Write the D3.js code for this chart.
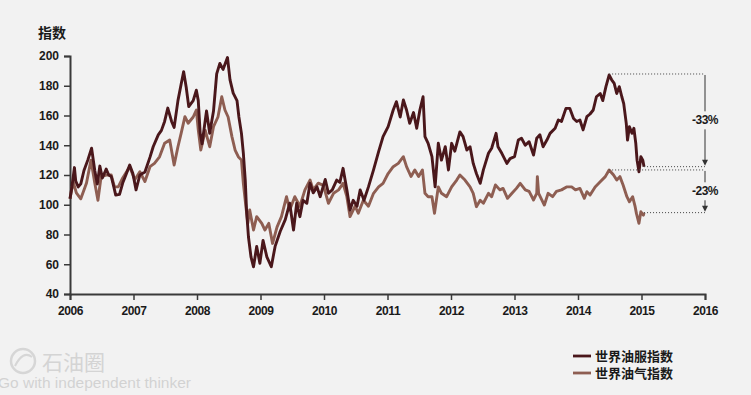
<!DOCTYPE html>
<html lang="zh">
<head>
<meta charset="UTF-8">
<title>世界油服指数与世界油气指数</title>
<script src="https://d3js.org/d3.v7.min.js"></script>
<style>
  body { margin: 0; background: #f2f2f2; }
  svg { display: block; }
  .tick text { font-family: "Liberation Sans", Arial, sans-serif; font-weight: bold; fill: #1a1a1a; }
</style>
</head>
<body>
<div id="chart"></div>
<script>
// 年份（小数年）与指数值
const serviceYears = [2006.00,2006.03,2006.07,2006.09,2006.13,2006.17,2006.22,2006.28,2006.34,2006.39,2006.43,2006.47,2006.51,2006.57,2006.61,2006.65,2006.69,2006.72,2006.78,2006.83,2006.88,2006.94,2006.99,2007.04,2007.10,2007.18,2007.26,2007.31,2007.39,2007.44,2007.49,2007.54,2007.60,2007.64,2007.70,2007.75,2007.79,2007.83,2007.87,2007.94,2007.99,2008.02,2008.05,2008.08,2008.15,2008.20,2008.26,2008.31,2008.36,2008.41,2008.48,2008.52,2008.57,2008.63,2008.66,2008.70,2008.73,2008.76,2008.78,2008.81,2008.85,2008.89,2008.94,2008.99,2009.04,2009.10,2009.17,2009.23,2009.31,2009.39,2009.46,2009.52,2009.57,2009.62,2009.67,2009.73,2009.78,2009.83,2009.89,2009.94,2010.02,2010.07,2010.13,2010.20,2010.25,2010.30,2010.36,2010.41,2010.46,2010.52,2010.57,2010.63,2010.70,2010.78,2010.86,2010.93,2011.01,2011.09,2011.14,2011.20,2011.25,2011.30,2011.35,2011.41,2011.46,2011.51,2011.56,2011.59,2011.64,2011.70,2011.75,2011.80,2011.85,2011.91,2011.96,2012.01,2012.06,2012.14,2012.19,2012.25,2012.30,2012.35,2012.40,2012.46,2012.51,2012.59,2012.64,2012.71,2012.74,2012.80,2012.88,2012.93,2013.00,2013.06,2013.11,2013.17,2013.23,2013.30,2013.35,2013.40,2013.45,2013.51,2013.56,2013.64,2013.69,2013.74,2013.81,2013.87,2013.93,2013.98,2014.03,2014.08,2014.14,2014.19,2014.24,2014.29,2014.35,2014.39,2014.44,2014.49,2014.53,2014.57,2014.61,2014.65,2014.69,2014.72,2014.76,2014.78,2014.81,2014.85,2014.88,2014.91,2014.93,2014.96,2014.99,2015.02,2015.04];
const serviceValues = [104,112,125,116,112,114,123,130,138,123,114,126,118,124,120,119,112,106.5,107,114.6,120,126.7,121,110,120,122,132,139,147,150,156,165,156,152,170,181,189.5,179,166,170,177,170,148,141,163,148,163,188,195,191,199,184,175,170,159,148,134.6,116.6,96.5,78.5,65,58.3,72,60.6,76,65,58.3,72,82,90,101,83,101,92,103,101,114.4,108,112,105.4,117,107.7,110,116.6,115,124.5,110,96.5,103,99,110,103,112,123.4,135.7,145.8,152.5,163.7,169.3,159,170.4,163.7,154.7,162,151.4,163.7,172.6,145.8,141.3,132.3,112,141.3,130,139,123.4,141.3,136,149,145.8,136.8,139,127.8,121,114.4,123.4,134.6,138,148,139,134.6,127.8,131,132.3,143.5,144.7,140,142.4,133.4,144.7,147,139,143.5,148,151.4,157,156,164.8,164.8,158,156,157,150.3,159.2,161,163.7,172.6,174.8,170,179.4,187.2,184,181.6,174.8,179.4,172.6,168,154.7,143.5,152.5,148,151.4,141.3,130,122.2,132.3,130,125.6];

const gasYears = [2006.00,2006.05,2006.10,2006.17,2006.26,2006.33,2006.39,2006.44,2006.49,2006.57,2006.65,2006.70,2006.76,2006.83,2006.94,2007.02,2007.10,2007.18,2007.26,2007.33,2007.41,2007.49,2007.57,2007.64,2007.70,2007.75,2007.81,2007.86,2007.94,2007.99,2008.02,2008.06,2008.13,2008.20,2008.26,2008.33,2008.39,2008.44,2008.49,2008.55,2008.60,2008.65,2008.70,2008.73,2008.77,2008.80,2008.83,2008.89,2008.94,2009.02,2009.07,2009.13,2009.19,2009.26,2009.33,2009.41,2009.46,2009.54,2009.62,2009.70,2009.78,2009.83,2009.91,2009.99,2010.07,2010.15,2010.23,2010.30,2010.36,2010.41,2010.49,2010.54,2010.62,2010.70,2010.78,2010.86,2010.93,2011.01,2011.09,2011.17,2011.25,2011.30,2011.37,2011.43,2011.49,2011.55,2011.59,2011.64,2011.70,2011.74,2011.80,2011.85,2011.93,2012.01,2012.09,2012.14,2012.22,2012.30,2012.35,2012.40,2012.46,2012.51,2012.59,2012.64,2012.70,2012.77,2012.82,2012.89,2012.96,2013.03,2013.09,2013.17,2013.23,2013.30,2013.35,2013.36,2013.38,2013.47,2013.53,2013.60,2013.66,2013.74,2013.82,2013.90,2013.96,2014.03,2014.10,2014.14,2014.19,2014.27,2014.35,2014.43,2014.49,2014.56,2014.61,2014.66,2014.71,2014.77,2014.81,2014.86,2014.90,2014.92,2014.96,2014.99,2015.03,2015.04];
const gasValues = [104,115.5,108,104,114.6,130,114.6,103,119,120,120,112,112,118,125.6,116.8,122.2,115.6,125.6,127.8,132.2,141.3,143.5,126.7,139,148,159.2,154.8,159,163.7,150.3,136.8,150,139,152.5,159,172.6,163.7,159,145.8,136.8,132.3,130,114.4,98.7,87.5,96.5,83,92,87.5,83,87.5,74,85,92,105.4,96.5,105.4,99,110,116.6,110,114.5,113,101,107.7,110,114.4,105.4,92,99,94.3,103,99,107.7,112,114.4,121,125.6,127.8,132.3,125.6,119,123.4,119,123.4,107.7,105.4,105.4,94.3,112,107.7,105.4,112,116.6,120,116.6,112,107.7,98.7,103,101,107.7,105.4,113.3,110,111,104.3,107.7,111,114.4,110,109,103.2,107.7,118.9,107.7,99.8,107.7,105.4,109,110,112,112,110,111,104.3,108.8,106.5,112,115.5,118.9,123.4,120,116.6,118.9,113.3,105.4,102,105.4,98.7,94.2,87.5,95.3,93,94.7];

const yTicks = [40, 60, 80, 100, 120, 140, 160, 180, 200];
const xTicks = [2006, 2007, 2008, 2009, 2010, 2011, 2012, 2013, 2014, 2015, 2016];
const seriesNames = ["世界油服指数", "世界油气指数"];
const seriesColors = ["#4a171b", "#8e5e52"];

// 跌幅标注：[峰值年份, 峰值, 终点年份, 终点值, 标签]
const drops = [
  [2014.49, 187.9, 2015.04, 125.6, "-33%"],
  [2014.49, 123.4, 2015.04, 94.7, "-23%"]
];

const width = 751, height = 395;
const margin = { left: 70, right: 46, top: 56, bottom: 101 };

const svg = d3.select("#chart").append("svg")
  .attr("width", width)
  .attr("height", height);

svg.append("rect").attr("width", width).attr("height", height).attr("fill", "#f2f2f2");

const x = d3.scaleLinear().domain([2006, 2016]).range([margin.left, width - margin.right]);
const y = d3.scaleLinear().domain([40, 200]).range([height - margin.bottom, margin.top]);

// 坐标轴
const yAxis = svg.append("g")
  .attr("transform", `translate(${margin.left},0)`)
  .call(d3.axisLeft(y).tickValues(yTicks).tickSize(6).tickPadding(5));
const xAxis = svg.append("g")
  .attr("transform", `translate(0,${height - margin.bottom})`)
  .call(d3.axisBottom(x).tickValues(xTicks).tickFormat(d3.format("d")).tickSize(6).tickPadding(6));

[yAxis, xAxis].forEach(g => {
  g.select(".domain").attr("stroke", "#3a3a3a").attr("stroke-width", 2);
  g.selectAll(".tick line").attr("stroke", "#3a3a3a").attr("stroke-width", 1.5);
  g.selectAll(".tick text").attr("font-size", 12);
});
xAxis.selectAll(".tick text").attr("font-size", 12).attr("letter-spacing", -0.4);

svg.append("text")
  .attr("x", 38).attr("y", 38)
  .attr("font-family", "'Noto Sans CJK SC', sans-serif")
  .attr("font-weight", "bold")
  .attr("font-size", 14)
  .attr("fill", "#1a1a1a")
  .text("指数");

// 折线
const line = d3.line().x(d => x(d[0])).y(d => y(d[1]));
const series = [d3.zip(gasYears, gasValues), d3.zip(serviceYears, serviceValues)];
svg.append("path").datum(series[0])
  .attr("fill", "none").attr("stroke", seriesColors[1]).attr("stroke-width", 2.9)
  .attr("stroke-linejoin", "round").attr("d", line);
svg.append("path").datum(series[1])
  .attr("fill", "none").attr("stroke", seriesColors[0]).attr("stroke-width", 2.9)
  .attr("stroke-linejoin", "round").attr("d", line);

// 跌幅标注
const arrowX = x(2016);
drops.forEach(d => {
  const [y0, v0, y1, v1, label] = d;
  svg.append("line")
    .attr("x1", x(y0)).attr("x2", arrowX).attr("y1", y(v0)).attr("y2", y(v0))
    .attr("stroke", "#444").attr("stroke-width", 1).attr("stroke-dasharray", "1,2");
  svg.append("line")
    .attr("x1", x(y1)).attr("x2", arrowX).attr("y1", y(v1)).attr("y2", y(v1))
    .attr("stroke", "#444").attr("stroke-width", 1).attr("stroke-dasharray", "1,2");
  const top = y(v0) + 1, bot = y(v1) - 1, mid = (top + bot) / 2;
  svg.append("line")
    .attr("x1", arrowX).attr("x2", arrowX).attr("y1", top).attr("y2", mid - 9)
    .attr("stroke", "#333").attr("stroke-width", 1);
  svg.append("line")
    .attr("x1", arrowX).attr("x2", arrowX).attr("y1", mid + 9).attr("y2", bot - 4)
    .attr("stroke", "#333").attr("stroke-width", 1);
  svg.append("path")
    .attr("d", `M${arrowX - 3},${bot - 6}L${arrowX + 3},${bot - 6}L${arrowX},${bot}Z`)
    .attr("fill", "#333");
  svg.append("text")
    .attr("x", arrowX).attr("y", mid + 4)
    .attr("text-anchor", "middle")
    .attr("font-family", "'Liberation Sans', Arial, sans-serif")
    .attr("font-weight", "bold").attr("font-size", 12).attr("letter-spacing", -0.5)
    .attr("fill", "#1a1a1a")
    .text(label);
});

// 图例
seriesNames.forEach((name, i) => {
  const ly = 356 + i * 17;
  svg.append("line")
    .attr("x1", 573).attr("x2", 591).attr("y1", ly).attr("y2", ly)
    .attr("stroke", seriesColors[i]).attr("stroke-width", 2.8);
  svg.append("text")
    .attr("x", 595).attr("y", ly + 5)
    .attr("font-family", "'Noto Sans CJK SC', sans-serif")
    .attr("font-weight", "bold").attr("font-size", 13)
    .attr("fill", "#1a1a1a")
    .text(name);
});

// 水印
const wm = svg.append("g").attr("fill", "none").attr("stroke", "#d6d6d6");
wm.append("circle").attr("cx", 23).attr("cy", 361).attr("r", 12).attr("stroke-width", 2.5);
wm.append("path").attr("d", "M15,366 Q23,350 32,357").attr("stroke-width", 2);
svg.append("text")
  .attr("x", 42).attr("y", 370)
  .attr("font-family", "'Noto Sans CJK SC', sans-serif")
  .attr("font-size", 21).attr("fill", "#d4d4d4")
  .text("石油圈");
svg.append("text")
  .attr("x", -2).attr("y", 388)
  .attr("font-family", "'Liberation Sans', Arial, sans-serif")
  .attr("font-size", 15.5).attr("fill", "#d2d2d2")
  .text("Go with independent thinker");
</script>
</body>
</html>
